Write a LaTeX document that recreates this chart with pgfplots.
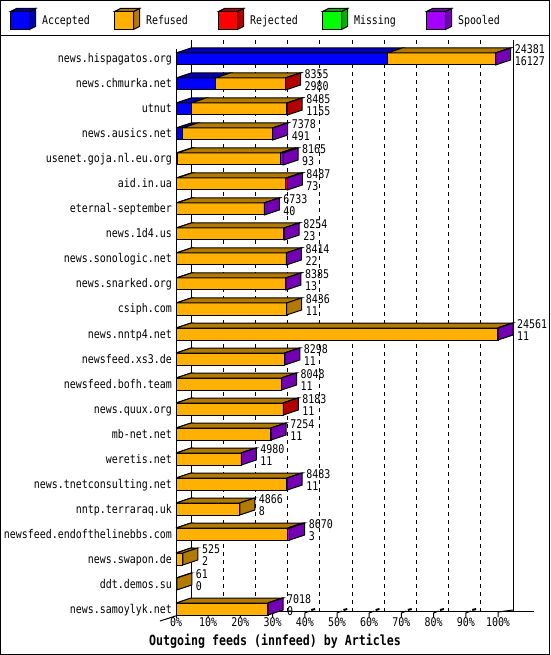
\documentclass[border=0pt]{standalone}
\usepackage{pgfplots}
\pgfplotsset{compat=1.18}
\usepackage{pgfplotstable}
\usepackage{fontspec}
\newfontfamily\gd{DejaVu Sans Mono}[FakeStretch=0.83]
\newcommand\gdf{\gd\fontsize{12}{14}\selectfont}
\newcommand\gdb{\gd\bfseries\fontsize{14}{16}\selectfont}
\definecolor{cAcc}{HTML}{0000FF}\definecolor{cAccT}{HTML}{0000B2}
\definecolor{cRef}{HTML}{FFB000}\definecolor{cRefT}{HTML}{B27B00}
\definecolor{cRej}{HTML}{FF0000}\definecolor{cRejT}{HTML}{B20000}
\definecolor{cMis}{HTML}{00FF00}\definecolor{cMisT}{HTML}{00B200}
\definecolor{cSpo}{HTML}{A500FF}\definecolor{cSpoT}{HTML}{7300B2}

\pgfplotstableread{
name acc ref rej spool total
news.hispagatos.org 16127 8234 0 20 24381
news.chmurka.net 2980 5345 30 0 8355
utnut 1155 7300 30 0 8485
news.ausics.net 491 6867 0 20 7378
usenet.goja.nl.eu.org 93 7842 0 230 8165
aid.in.ua 73 8314 80 20 8487
eternal-september 40 6673 0 20 6733
news.1d4.us 23 8211 0 20 8254
news.sonologic.net 22 8372 0 20 8414
news.snarked.org 13 8352 0 20 8385
csiph.com 11 8425 0 0 8436
news.nntp4.net 11 24530 0 20 24561
newsfeed.xs3.de 11 8267 0 20 8298
newsfeed.bofh.team 11 8017 0 20 8048
news.quux.org 11 8152 20 0 8183
mb-net.net 11 7223 0 20 7254
weretis.net 11 4949 0 20 4980
news.tnetconsulting.net 11 8452 0 20 8483
nntp.terraraq.uk 8 4858 0 0 4866
newsfeed.endofthelinebbs.com 3 8517 0 150 8670
news.swapon.de 2 523 0 0 525
ddt.demos.su 0 61 0 0 61
news.samoylyk.net 0 6998 0 20 7018
}\data

% count -> percent of the largest total (24561), with the fpu
\newcommand\tounits[2]{\begingroup\pgfkeys{/pgf/fpu=true,/pgf/fpu/output format=fixed}%
  \pgfmathparse{#2/245.61}\xdef#1{\pgfmathresult}\endgroup}
% one stacked segment: front face and top face
\newcommand\drawseg[5]{%
  \pgfmathtruncatemacro\ok{(#4-#3)>0.001}%
  \ifnum\ok=1\relax
    \pgfmathsetmacro\yt{#5-0.24}%
    \pgfmathsetmacro\yb{#5+0.24}%
    \pgfmathsetmacro\ytt{#5-0.44}%
    \pgfmathsetmacro\ua{#3+4.66}%
    \pgfmathsetmacro\ub{#4+4.66}%
    \edef\tmp{\noexpand\addplot[forget plot,draw=black,fill=#1,line width=1pt] coordinates {(#3,\yt) (#4,\yt) (#4,\yb) (#3,\yb) (#3,\yt)};
      \noexpand\addplot[forget plot,draw=black,fill=#2,line width=1pt] coordinates {(#3,\yt) (#4,\yt) (\ub,\ytt) (\ua,\ytt) (#3,\yt)};}%
    \tmp
  \fi}
% side face at the end of the bar
\newcommand\drawside[3]{%
  \pgfmathsetmacro\yt{#3-0.24}%
  \pgfmathsetmacro\yb{#3+0.24}%
  \pgfmathsetmacro\ytt{#3-0.44}%
  \pgfmathsetmacro\ybb{#3+0.04}%
  \pgfmathsetmacro\ub{#2+4.66}%
  \edef\tmp{\noexpand\addplot[forget plot,draw=black,fill=#1,line width=1pt] coordinates {(#2,\yt) (\ub,\ytt) (\ub,\ybb) (#2,\yb) (#2,\yt)};}%
  \tmp}

\begin{document}
\begin{tikzpicture}
\useasboundingbox (0,0) rectangle (550pt,655pt);
\begin{axis}[
  at={(176pt,39pt)}, anchor=south west,
  scale only axis, width=322pt, height=576pt,
  xmin=0, xmax=100, ymin=-0.76, ymax=22.28, y dir=reverse,
  clip=false,
  axis line style={draw=none},
  major tick length=0pt, tick style={draw=none},
  xtick={0,10,...,100},
  xticklabels={0\%,10\%,20\%,30\%,40\%,50\%,60\%,70\%,80\%,90\%,100\%},
  ytick={0,...,22}, yticklabels from table={\data}{name},
  xticklabel style={font=\gdf, anchor=north, inner sep=0pt, yshift=-1pt},
  yticklabel style={font=\gdf, anchor=base east, inner sep=0pt, xshift=-4pt, yshift=-4pt},
  xlabel={Outgoing feeds (innfeed) by Articles},
  xlabel style={font=\gdb, at={(axis description cs:0.3075,-0.0434)}, anchor=center},
  legend columns=5, legend cell align=left,
  legend style={at={(axis description cs:-0.5155,1.0365)}, anchor=west,
    draw=none, fill=none, inner sep=0pt, outer sep=0pt, font=\gdf,
    /tikz/every odd column/.append style={column sep=4pt},
    /tikz/every even column/.append style={column sep=22pt}},
]
\addlegendimage{legend image code/.code={
  \draw[fill=cAcc,line width=1pt] (0pt,-9pt) rectangle (19pt,9pt);
  \draw[fill=cAccT,line width=1pt] (19pt,-9pt)--(25pt,-6pt)--(25pt,12pt)--(19pt,9pt)--cycle;
  \draw[fill=cAccT,line width=1pt] (0pt,9pt)--(6pt,12pt)--(25pt,12pt)--(19pt,9pt)--cycle;}}
\addlegendentry{\makebox[48pt][l]{Accepted}}
\addlegendimage{legend image code/.code={
  \draw[fill=cRef,line width=1pt] (0pt,-9pt) rectangle (19pt,9pt);
  \draw[fill=cRefT,line width=1pt] (19pt,-9pt)--(25pt,-6pt)--(25pt,12pt)--(19pt,9pt)--cycle;
  \draw[fill=cRefT,line width=1pt] (0pt,9pt)--(6pt,12pt)--(25pt,12pt)--(19pt,9pt)--cycle;}}
\addlegendentry{\makebox[48pt][l]{Refused}}
\addlegendimage{legend image code/.code={
  \draw[fill=cRej,line width=1pt] (0pt,-9pt) rectangle (19pt,9pt);
  \draw[fill=cRejT,line width=1pt] (19pt,-9pt)--(25pt,-6pt)--(25pt,12pt)--(19pt,9pt)--cycle;
  \draw[fill=cRejT,line width=1pt] (0pt,9pt)--(6pt,12pt)--(25pt,12pt)--(19pt,9pt)--cycle;}}
\addlegendentry{\makebox[48pt][l]{Rejected}}
\addlegendimage{legend image code/.code={
  \draw[fill=cMis,line width=1pt] (0pt,-9pt) rectangle (19pt,9pt);
  \draw[fill=cMisT,line width=1pt] (19pt,-9pt)--(25pt,-6pt)--(25pt,12pt)--(19pt,9pt)--cycle;
  \draw[fill=cMisT,line width=1pt] (0pt,9pt)--(6pt,12pt)--(25pt,12pt)--(19pt,9pt)--cycle;}}
\addlegendentry{\makebox[48pt][l]{Missing}}
\addlegendimage{legend image code/.code={
  \draw[fill=cSpo,line width=1pt] (0pt,-9pt) rectangle (19pt,9pt);
  \draw[fill=cSpoT,line width=1pt] (19pt,-9pt)--(25pt,-6pt)--(25pt,12pt)--(19pt,9pt)--cycle;
  \draw[fill=cSpoT,line width=1pt] (0pt,9pt)--(6pt,12pt)--(25pt,12pt)--(19pt,9pt)--cycle;}}
\addlegendentry{\makebox[48pt][l]{Spooled}}

% back wall grid lines
\pgfplotsforeachungrouped \p in {10,20,...,90}{%
  \pgfmathsetmacro\pq{\p+4.66}%
  \edef\tmp{\noexpand\addplot[forget plot,black,line width=1pt,dash pattern=on 4pt off 4pt] coordinates {(\pq,-0.76) (\pq,22.08)};}\tmp}
\addplot[forget plot,black,line width=1pt] coordinates {(4.66,-0.76) (4.66,22.08)};
\addplot[forget plot,black,line width=1pt] coordinates {(104.66,-0.76) (104.66,22.08)};
\addplot[forget plot,black,line width=1pt] coordinates {(4.66,22.08) (111.2,22.08)};
\addplot[forget plot,black,line width=1pt] coordinates {(0,-0.38) (0,22.36)};
\addplot[forget plot,black,line width=1pt] coordinates {(-4.97,22.48) (4.66,22.08)};
\addplot[forget plot,black,line width=1pt] coordinates {(100,22.32) (100,22.12) (104.66,22.04)};
\pgfplotsforeachungrouped \p in {10,20,...,90}{%
  \pgfmathsetmacro\pa{\p+1.55}\pgfmathsetmacro\pb{\p+2.0}\pgfmathsetmacro\pc{\p+3.2}%
  \edef\tmp{\noexpand\addplot[forget plot,black,line width=1pt] coordinates {(\p,22.32) (\p,22.16) (\pa,22.08)};
    \noexpand\addplot[forget plot,black,line width=2pt] coordinates {(\pb,22.04) (\pc,22.0)};}\tmp}

% bars
\pgfplotsforeachungrouped \i in {0,...,22}{%
  \pgfplotstablegetelem{\i}{acc}\of\data \tounits\va{\pgfplotsretval}%
  \pgfplotstablegetelem{\i}{ref}\of\data \tounits\vb{\pgfplotsretval}%
  \pgfplotstablegetelem{\i}{rej}\of\data \tounits\vc{\pgfplotsretval}%
  \pgfplotstablegetelem{\i}{spool}\of\data \tounits\vd{\pgfplotsretval}%
  \pgfmathsetmacro\xa{\va}%
  \pgfmathsetmacro\xb{\xa+\vb}%
  \pgfmathsetmacro\xc{\xb+\vc}%
  \pgfmathsetmacro\xd{\xc+\vd}%
  \drawseg{cAcc}{cAccT}{0}{\xa}{\i}%
  \drawseg{cRef}{cRefT}{\xa}{\xb}{\i}%
  \drawseg{cRej}{cRejT}{\xb}{\xc}{\i}%
  \drawseg{cSpo}{cSpoT}{\xc}{\xd}{\i}%
  \pgfmathtruncatemacro\hasS{\vd>0.001}%
  \pgfmathtruncatemacro\hasR{\vc>0.001}%
  \ifnum\hasS=1 \def\sc{cSpoT}\else\ifnum\hasR=1 \def\sc{cRejT}\else\def\sc{cRefT}\fi\fi
  \drawside{\sc}{\xd}{\i}%
}

% value labels
\addplot[forget plot, draw=none, mark=none, nodes near coords, point meta=explicit symbolic,
  nodes near coords style={anchor=west, font=\gdf, inner sep=0pt}]
  table[x expr=\thisrow{total}/245.61+5.9, y expr=\coordindex-0.38, meta=total]{\data};
\addplot[forget plot, draw=none, mark=none, nodes near coords, point meta=explicit symbolic,
  nodes near coords style={anchor=west, font=\gdf, inner sep=0pt}]
  table[x expr=\thisrow{total}/245.61+5.9, y expr=\coordindex+0.08, meta=acc]{\data};
\end{axis}
\draw[line width=1pt] (0.5pt,0.5pt) rectangle (549.5pt,654.5pt);
\draw[line width=1pt] (0pt,619.5pt) -- (550pt,619.5pt);
\end{tikzpicture}
\end{document}
